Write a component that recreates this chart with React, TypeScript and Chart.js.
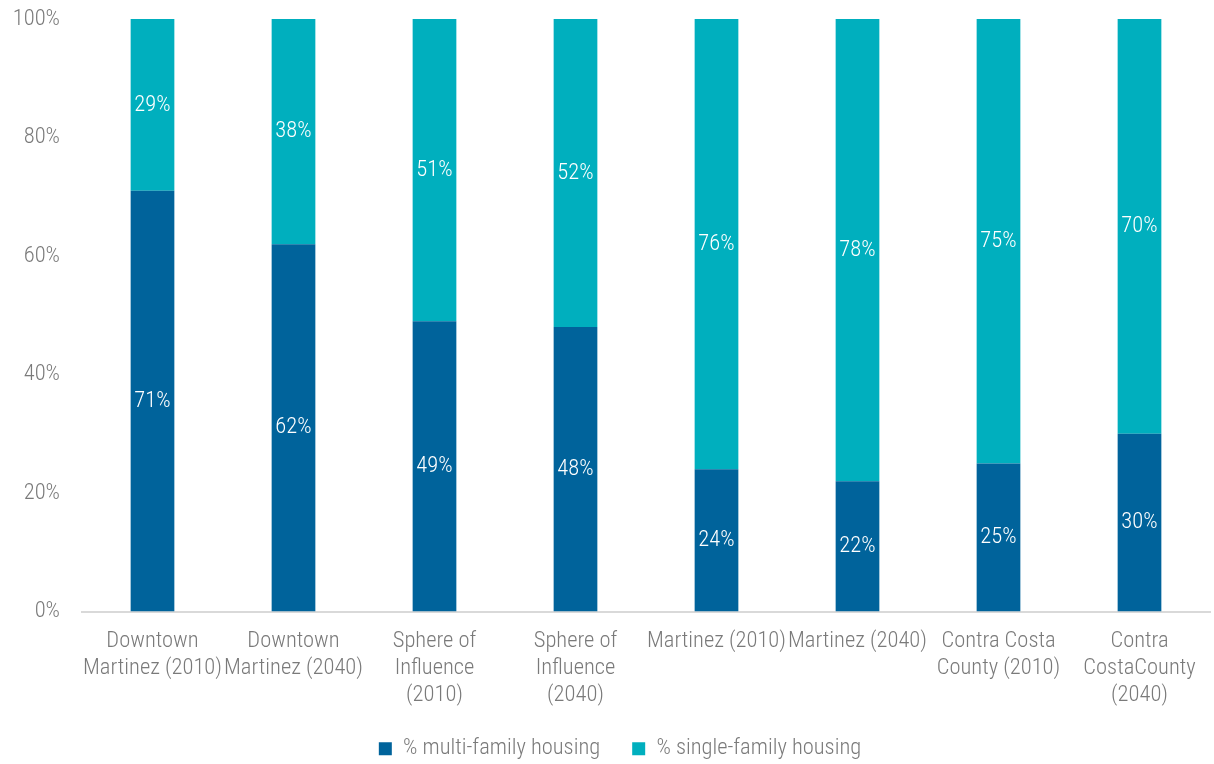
import React, { useEffect, useRef } from "react";
import { Chart, registerables } from "chart.js";

Chart.register(...registerables);

const categories: string[][] = [
  ["Downtown", "Martinez (2010)"],
  ["Downtown", "Martinez (2040)"],
  ["Sphere of", "Influence", "(2010)"],
  ["Sphere of", "Influence", "(2040)"],
  ["Martinez (2010)"],
  ["Martinez (2040)"],
  ["Contra Costa", "County (2010)"],
  ["Contra", "CostaCounty", "(2040)"],
];
const multiFamily = [71, 62, 49, 48, 24, 22, 25, 30];
const singleFamily = [29, 38, 51, 52, 76, 78, 75, 70];
const yTicks = [0, 20, 40, 60, 80, 100];

const FAMILY = "Roboto, 'Liberation Sans', sans-serif";
const WEIGHT = "condensed 300";
const SIZE = 22.5;
const DARK = "#00639b";
const TEAL = "#00afbe";
const GREY = "#7a7a7a";

const labelPlugin = {
  id: "segLabels",
  afterDatasetsDraw(chart: any) {
    const ctx = chart.ctx;
    ctx.save();
    ctx.font = `${WEIGHT} ${SIZE}px ${FAMILY}`;
    ctx.fillStyle = "#ffffff";
    ctx.textAlign = "center";
    ctx.textBaseline = "middle";
    chart.data.datasets.forEach((ds: any, di: number) => {
      const meta = chart.getDatasetMeta(di);
      meta.data.forEach((el: any, i: number) => {
        const { x, y, base } = el.getProps(["x", "y", "base"], true);
        ctx.fillText(`${ds.data[i]}%`, x, (y + base) / 2);
      });
    });
    ctx.restore();
  },
};

const legendShift = {
  id: "legendShift",
  afterLayout(chart: any) {
    if (chart.legend) {
      chart.legend.left += 15;
      chart.legend.right += 15;
    }
  },
};

export default function App() {
  const ref = useRef<HTMLCanvasElement>(null);
  useEffect(() => {
    if (!ref.current) return;
    const font = { family: FAMILY, size: SIZE, weight: WEIGHT as any, lineHeight: 1.2 };
    const chart = new Chart(ref.current, {
      type: "bar",
      data: {
        labels: categories,
        datasets: [
          {
            label: "% multi-family housing",
            data: multiFamily,
            backgroundColor: DARK,
            categoryPercentage: 1,
            barPercentage: 0.31,
          },
          {
            label: "% single-family housing",
            data: singleFamily,
            backgroundColor: TEAL,
            categoryPercentage: 1,
            barPercentage: 0.31,
          },
        ],
      },
      options: {
        animation: false,
        responsive: true,
        maintainAspectRatio: false,
        layout: { padding: { top: 19, right: 4, left: 0, bottom: -6 } },
        plugins: {
          tooltip: { enabled: false },
          legend: {
            position: "bottom",
            labels: {
              font,
              color: GREY,
              boxWidth: 13,
              boxHeight: 13,
              padding: 32,
            },
          },
        },
        scales: {
          x: {
            stacked: true,
            grid: { display: false, drawTicks: false },
            border: { display: true, color: "#d9d9d9", width: 2 },
            afterFit: (s: any) => {
              s.height = s.height - 19;
              s.paddingTop = 0;
            },
            ticks: {
              font,
              color: GREY,
              padding: 16,
              maxRotation: 0,
              autoSkip: false,
            },
          },
          y: {
            stacked: true,
            min: 0,
            max: 100,
            afterFit: (s: any) => {
              s.width = 82;
              s.paddingTop = 0;
              s.paddingBottom = 0;
            },
            afterBuildTicks: (s: any) => {
              s.ticks = yTicks.map((v) => ({ value: v }));
            },
            grid: { display: false, drawTicks: false },
            border: { display: false },
            ticks: {
              font,
              color: GREY,
              padding: 22,
              callback: (v: any) => `${v}%`,
            },
          },
        },
      },
      plugins: [labelPlugin, legendShift],
    });
    return () => chart.destroy();
  }, []);
  return (
    <div style={{ position: "fixed", left: 0, top: 0, width: 1214, height: 764, background: "#fff" }}>
      <canvas ref={ref} />
    </div>
  );
}
